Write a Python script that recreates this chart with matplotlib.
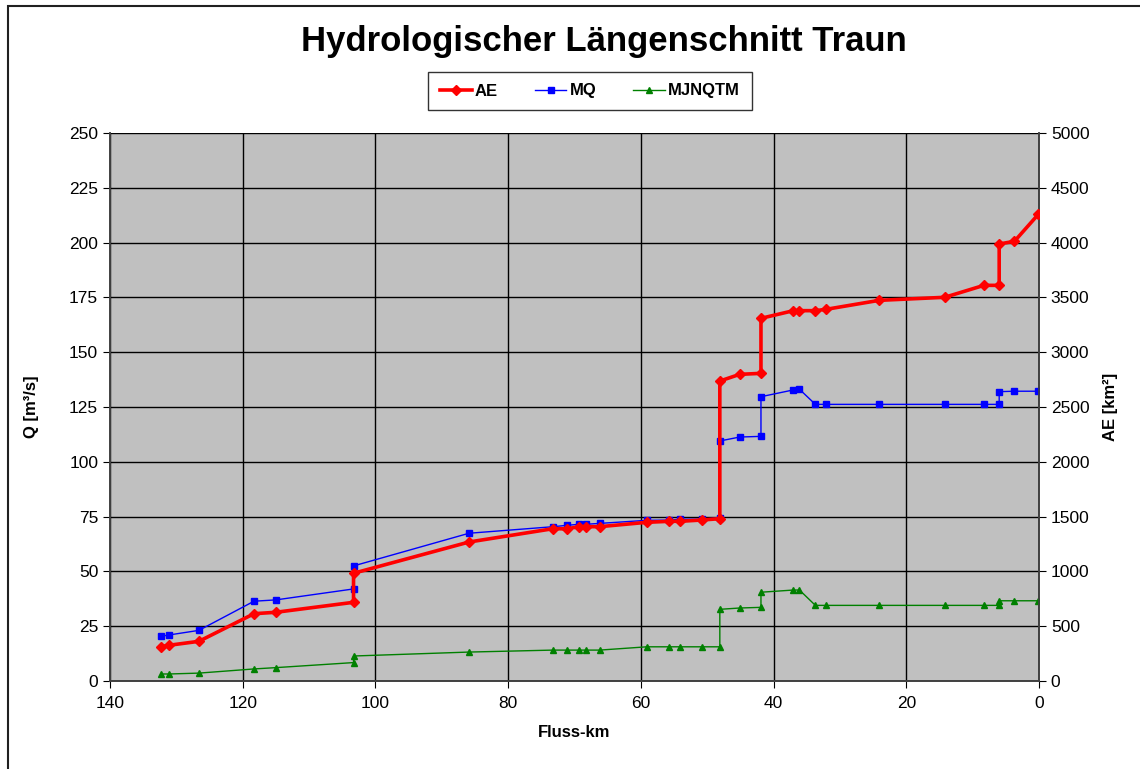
import numpy as np
import matplotlib.pyplot as plt
from matplotlib.patches import Rectangle

plt.rcParams['font.family'] = ['Liberation Sans', 'DejaVu Sans']

# Fluss-km der Messpunkte
km = [132.3, 131.1, 126.6, 118.3, 115.0, 103.3, 103.3, 85.9, 73.2, 71.2, 69.3,
      68.3, 66.2, 59.1, 55.7, 54.1, 50.8, 48.1, 48.1, 45.1, 41.9, 41.9, 37.0,
      36.1, 33.7, 32.1, 24.1, 14.2, 8.3, 6.0, 6.0, 3.7, 0.1]

# Einzugsgebiet AE [km2]
ae = [313, 326, 362, 614, 627, 718, 983, 1268, 1390, 1388, 1408, 1408, 1408,
      1448, 1457, 1457, 1469, 1481, 2737, 2798, 2807, 3309, 3379, 3379, 3379,
      3391, 3473, 3501, 3610, 3610, 3987, 4012, 4258]

# Mittelwasser MQ [m3/s]
mq = [20.4, 21.0, 23.1, 36.4, 37.0, 42.0, 52.5, 67.4, 70.4, 71.0, 71.5, 71.5,
      71.9, 73.3, 73.4, 73.8, 73.8, 74.5, 109.5, 111.3, 111.6, 129.7, 132.8,
      133.1, 126.2, 126.2, 126.2, 126.2, 126.2, 126.2, 132.0, 132.2, 132.2]

# MJNQT M [m3/s]
mjnqtm = [3.2, 3.2, 3.6, 5.5, 6.1, 8.4, 11.4, 13.2, 14.1, 14.1, 14.1, 14.1,
          14.1, 15.6, 15.6, 15.6, 15.6, 15.6, 32.7, 33.3, 33.6, 40.5, 41.5,
          41.5, 34.5, 34.5, 34.5, 34.5, 34.5, 34.5, 36.6, 36.6, 36.6]

fig = plt.figure(figsize=(11.4, 7.69), dpi=100)
ax = fig.add_axes([110/1140, 1-681/769, (1039-110)/1140, (681-133)/769])
ax2 = ax.twinx()

ax.set_facecolor('#c0c0c0')
ax.set_xlim(140, 0)
ax.set_ylim(0, 250)
ax2.set_ylim(0, 5000)
ax.set_xticks(np.arange(0, 141, 20))
ax.set_yticks(np.arange(0, 251, 25))
ax2.set_yticks(np.arange(0, 5001, 500))
ax.grid(True, color='black', lw=1)
ax.set_axisbelow(True)

l2, = ax.plot(km, mq, color='#0000ff', lw=1, marker='s', ms=4, label='MQ', zorder=3)
l3, = ax.plot(km, mjnqtm, color='#008000', lw=1, marker='^', ms=4, label='MJNQTM', zorder=3)
l1, = ax2.plot(km, ae, color='#ff0000', lw=2.6, marker='D', ms=5, label='AE', zorder=4)

for a in (ax, ax2):
    for s in a.spines.values():
        s.set_color('#404040')
        s.set_linewidth(1.2)
    a.tick_params(labelsize=12.5, length=5, color='black')
ax.tick_params(axis='x', pad=6)
ax.spines['top'].set_visible(False)
ax2.spines['top'].set_visible(False)

ax.set_xlabel('Fluss-km', fontsize=12, fontweight='bold', labelpad=10)
ax.set_ylabel('Q [m³/s]', fontsize=12, fontweight='bold', labelpad=22)
ax2.set_ylabel('AE [km²]', fontsize=12, fontweight='bold', labelpad=10)

fig.text(0.53, 1-42/769, 'Hydrologischer Längenschnitt Traun', ha='center', va='center',
         fontsize=25, fontweight='bold')

leg = fig.legend(handles=[l1, l2, l3], loc='center', bbox_to_anchor=(590/1140, 1-91/769),
                 ncol=3, frameon=True, fancybox=False, edgecolor='black',
                 prop={'weight': 'bold', 'size': 12}, handlelength=1.9, handletextpad=0.2,
                 columnspacing=2.2, borderpad=0.7)
leg.get_frame().set_linewidth(1)

fig.patches.append(Rectangle((8/1140, -0.05), 1.2, 1-6/769+0.05, transform=fig.transFigure,
                             fill=False, edgecolor='#202020', lw=1.5))

fig.savefig('out.png', dpi=100)
